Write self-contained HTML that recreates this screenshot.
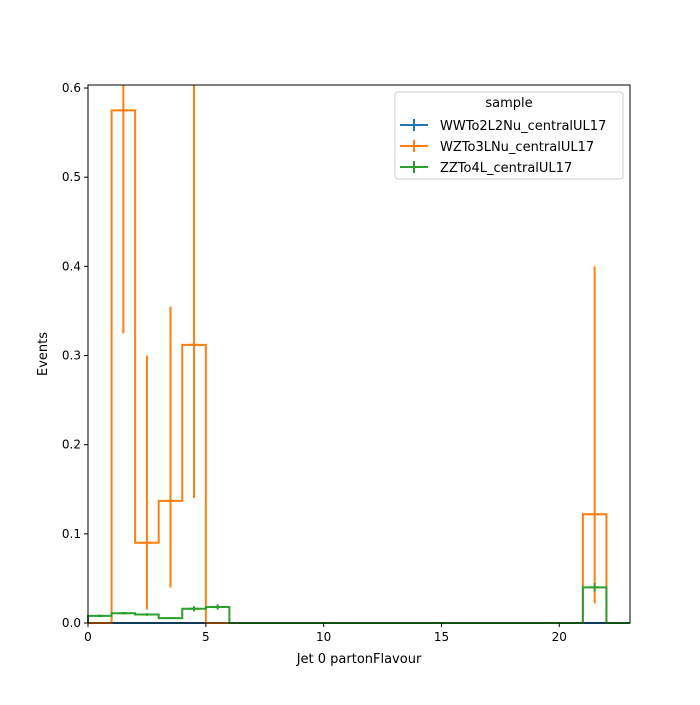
<!DOCTYPE html>
<html><head><meta charset="utf-8"><style>
body{margin:0;background:#fff;}
svg{font-family:"DejaVu Sans","Liberation Sans",sans-serif;}
</style></head><body>
<svg id="c" width="700" height="700" xmlns="http://www.w3.org/2000/svg">
<rect width="700" height="700" fill="#fff"/>
<g id="plot"></g>
<g id="axes"></g>
<g>
<rect x="395" y="92" width="228" height="87" rx="3" fill="#fff" fill-opacity="0.8" stroke="#ccc"/>
<text x="509" y="107" font-size="13" text-anchor="middle">sample</text>
<g><line x1="400" y1="125" x2="428" y2="125" stroke="#1f77b4" stroke-width="2"/><line x1="414" y1="119" x2="414" y2="131" stroke="#1f77b4" stroke-width="2"/><text x="440" y="130" font-size="13">WWTo2L2Nu_centralUL17</text></g>
<g><line x1="400" y1="146" x2="428" y2="146" stroke="#ff7f0e" stroke-width="2"/><line x1="414" y1="140" x2="414" y2="152" stroke="#ff7f0e" stroke-width="2"/><text x="440" y="151" font-size="13">WZTo3LNu_centralUL17</text></g>
<g><line x1="400" y1="167" x2="428" y2="167" stroke="#2ca02c" stroke-width="2"/><line x1="414" y1="161" x2="414" y2="173" stroke="#2ca02c" stroke-width="2"/><text x="440" y="172" font-size="13">ZZTo4L_centralUL17</text></g>
</g>
</svg>
<script>
const binEdgesStart=0, nBins=23;
const wwValues=new Array(23).fill(0);
const wzValues=[0,0.575,0.09,0.137,0.312,0,0,0,0,0,0,0,0,0,0,0,0,0,0,0,0,0.122,0];
const wzErrLo=[0,0.325,0.015,0.04,0.14,0,0,0,0,0,0,0,0,0,0,0,0,0,0,0,0,0.022,0];
const wzErrHi=[0,0.83,0.3,0.355,0.65,0,0,0,0,0,0,0,0,0,0,0,0,0,0,0,0,0.4,0];
const zzValues=[0.008,0.011,0.0095,0.0055,0.016,0.018,0,0,0,0,0,0,0,0,0,0,0,0,0,0,0,0.04,0];
const zzErr=[0.0015,0.0015,0.0015,0.001,0.003,0.003,0,0,0,0,0,0,0,0,0,0,0,0,0,0,0,0.005,0];
const xTicks=[0,5,10,15,20];
const yTicks=[0,0.1,0.2,0.3,0.4,0.5,0.6];
const X0=88,X1=630,Y0=623,Y1=85,XMAX=23,YMAX=0.6034;
const sx=v=>X0+(v/XMAX)*(X1-X0);
const sy=v=>Y0-(Math.min(v,YMAX)/YMAX)*(Y0-Y1);
const NS="http://www.w3.org/2000/svg";
const plot=document.getElementById('plot'),axes=document.getElementById('axes');
function mk(tag,attrs,parent){const e=document.createElementNS(NS,tag);for(const k in attrs)e.setAttribute(k,attrs[k]);parent.appendChild(e);return e;}
function series(vals,color,name,errLo,errHi){
  const g=mk('g',{},plot);
  
  
  let d='M'+sx(0)+','+sy(0);
  vals.forEach((v,i)=>{d+=' L'+sx(i)+','+sy(v)+' L'+sx(i+1)+','+sy(v);});
  d+=' L'+sx(vals.length)+','+sy(0);
  const p=mk('path',{d:d,fill:'none',stroke:color,'stroke-width':2},g);
  
  
  vals.forEach((v,i)=>{
    if(errLo&&errHi[i]>errLo[i]){
      const cx=sx(i+0.5);
      const l=mk('line',{x1:cx,x2:cx,y1:sy(errLo[i]),y2:sy(errHi[i]),stroke:color,'stroke-width':2},g);
      
      
      const h=mk('line',{x1:sx(i+0.3),x2:sx(i+0.7),y1:sy(v),y2:sy(v),stroke:color,'stroke-width':2},g);
      
      
    }
  });
}
series(wwValues,'#1f77b4','ww-series',null,null);
series(wzValues,'#ff7f0e','wz-series',wzErrLo,wzErrHi);
series(zzValues,'#2ca02c','zz-series',zzValues.map((v,i)=>v-zzErr[i]),zzValues.map((v,i)=>v+zzErr[i]));
const fr=mk('rect',{x:X0,y:Y1,width:X1-X0,height:Y0-Y1,fill:'none',stroke:'#000','stroke-width':1},axes);


xTicks.forEach(t=>{
  const x=sx(t);
  mk('line',{x1:x,x2:x,y1:Y0,y2:Y0+4,stroke:'#000'},axes);
  const tx=mk('text',{x:x,y:Y0+18,'font-size':12,'text-anchor':'middle'},axes);tx.textContent=t;
  
  
});
yTicks.forEach(t=>{
  const y=sy(t);
  mk('line',{x1:X0-4,x2:X0,y1:y,y2:y,stroke:'#000'},axes);
  const tx=mk('text',{x:X0-7,y:y+4,'font-size':12,'text-anchor':'end'},axes);tx.textContent=t.toFixed(1);
  
  
});
const xt=mk('text',{x:(X0+X1)/2,y:663,'font-size':13,'text-anchor':'middle'},axes);xt.textContent='Jet 0 partonFlavour';


const yt=mk('text',{x:47,y:354,'font-size':13,'text-anchor':'middle',transform:'rotate(-90 47 354)'},axes);yt.textContent='Events';


</script>
</body></html>
